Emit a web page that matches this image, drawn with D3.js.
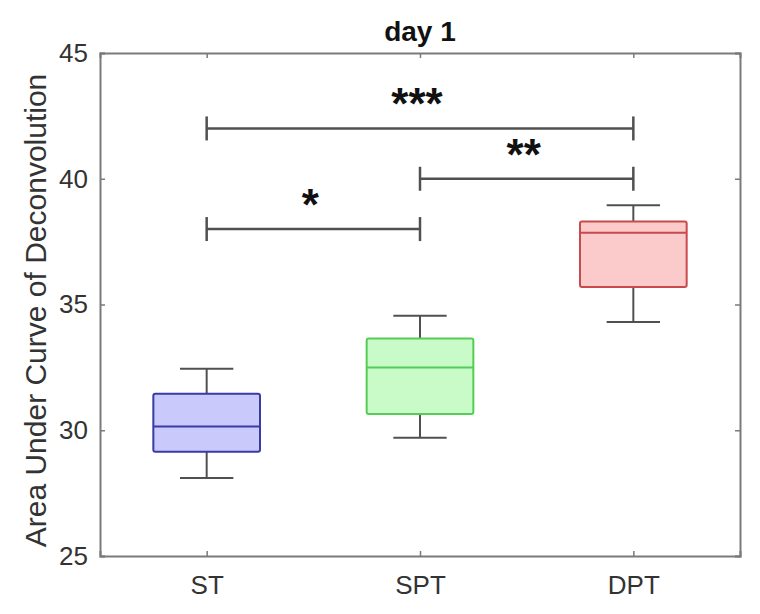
<!DOCTYPE html>
<html>
<head>
<meta charset="utf-8">
<script src="https://cdn.jsdelivr.net/npm/d3@7"></script>
<style>
  body { margin: 0; background: #fff; }
  text { font-family: "Liberation Sans", Arial, sans-serif; }
</style>
</head>
<body>
<div id="chart-area"></div>
<script>
// box statistics
var categories = ["ST", "SPT", "DPT"];
var whiskerLow = [28.1, 29.7, 34.3];
var q1 = [29.15, 30.65, 35.7];
var medians = [30.15, 32.5, 37.85];
var q3 = [31.45, 33.65, 38.3];
var whiskerHigh = [32.45, 34.55, 38.95];

var yTicks = [25, 30, 35, 40, 45];

// significance brackets: from, to, level, label
var sigFrom = ["ST", "SPT", "ST"];
var sigTo = ["SPT", "DPT", "DPT"];
var sigLevel = [38, 40, 42];
var sigLabel = ["*", "**", "***"];

var fills = ["#c9c9fb", "#c9fbc9", "#fbcaca"];
var strokes = ["#3a3aa8", "#55cc55", "#c84a4a"];

var width = 760, height = 614;
var margin = { left: 100, right: 20, top: 53, bottom: 58 };

var svg = d3.select("#chart-area")
    .append("svg")
    .attr("width", width)
    .attr("height", height);

var x = d3.scalePoint()
    .domain(categories)
    .range([margin.left, width - margin.right])
    .padding(0.5);
var step = x.step();

var y = d3.scaleLinear()
    .domain([25, 45])
    .range([height - margin.bottom, margin.top]);

var axisColor = "#7a7a7a";
var tickLen = 5;

// axes, ticks pointing inward like MATLAB
svg.append("g")
    .attr("transform", "translate(" + margin.left + ",0)")
    .call(d3.axisLeft(y).tickValues(yTicks).tickSize(-tickLen).tickPadding(12))
    .call(function (g) {
        g.select(".domain").attr("stroke", axisColor).attr("stroke-width", 2);
        g.selectAll(".tick line").attr("stroke", axisColor).attr("stroke-width", 1.5);
        g.selectAll(".tick text").attr("font-size", 26).attr("fill", "#333").attr("font-family", "Liberation Sans, Arial, sans-serif");
    });

svg.append("g")
    .attr("transform", "translate(" + (width - margin.right) + ",0)")
    .call(d3.axisRight(y).tickValues(yTicks).tickSize(-tickLen).tickFormat(""))
    .call(function (g) {
        g.select(".domain").attr("stroke", axisColor).attr("stroke-width", 2);
        g.selectAll(".tick line").attr("stroke", axisColor).attr("stroke-width", 1.5);
    });

svg.append("g")
    .attr("transform", "translate(0," + (height - margin.bottom) + ")")
    .call(d3.axisBottom(x).tickSize(-tickLen).tickPadding(20))
    .call(function (g) {
        g.select(".domain").attr("stroke", axisColor).attr("stroke-width", 2);
        g.selectAll(".tick line").attr("stroke", axisColor).attr("stroke-width", 1.5);
        g.selectAll(".tick text").attr("font-size", 26).attr("fill", "#333").attr("font-family", "Liberation Sans, Arial, sans-serif");
    });

svg.append("g")
    .attr("transform", "translate(0," + margin.top + ")")
    .call(d3.axisTop(x).tickSize(-tickLen).tickFormat(""))
    .call(function (g) {
        g.select(".domain").attr("stroke", axisColor).attr("stroke-width", 2);
        g.selectAll(".tick line").attr("stroke", axisColor).attr("stroke-width", 1.5);
    });

// boxes
var whiskerColor = "#505050";
var boxes = svg.append("g").attr("id", "boxes");
categories.forEach(function (c, i) {
    var cx = x(c);
    var bw = step * 0.5;
    var cw = step * 0.25;
    var g = boxes.append("g");

    g.append("line")
        .attr("x1", cx).attr("x2", cx)
        .attr("y1", y(q3[i])).attr("y2", y(whiskerHigh[i]))
        .attr("stroke", whiskerColor).attr("stroke-width", 2);
    g.append("line")
        .attr("x1", cx).attr("x2", cx)
        .attr("y1", y(q1[i])).attr("y2", y(whiskerLow[i]))
        .attr("stroke", whiskerColor).attr("stroke-width", 2);
    g.append("line")
        .attr("x1", cx - cw / 2).attr("x2", cx + cw / 2)
        .attr("y1", y(whiskerHigh[i])).attr("y2", y(whiskerHigh[i]))
        .attr("stroke", whiskerColor).attr("stroke-width", 2);
    g.append("line")
        .attr("x1", cx - cw / 2).attr("x2", cx + cw / 2)
        .attr("y1", y(whiskerLow[i])).attr("y2", y(whiskerLow[i]))
        .attr("stroke", whiskerColor).attr("stroke-width", 2);

    g.append("rect")
        .attr("x", cx - bw / 2)
        .attr("y", y(q3[i]))
        .attr("width", bw)
        .attr("height", y(q1[i]) - y(q3[i]))
        .attr("rx", 2)
        .attr("fill", fills[i])
        .attr("stroke", strokes[i])
        .attr("stroke-width", 2);
    g.append("line")
        .attr("x1", cx - bw / 2).attr("x2", cx + bw / 2)
        .attr("y1", y(medians[i])).attr("y2", y(medians[i]))
        .attr("stroke", strokes[i]).attr("stroke-width", 2);
});

// significance brackets
var sig = svg.append("g").attr("id", "significance");
sigLabel.forEach(function (label, i) {
    var x1 = x(sigFrom[i]), x2 = x(sigTo[i]), yy = y(sigLevel[i]);
    sig.append("line")
        .attr("x1", x1).attr("x2", x2)
        .attr("y1", yy).attr("y2", yy)
        .attr("stroke", whiskerColor).attr("stroke-width", 2.5);
    [x1, x2].forEach(function (xx) {
        sig.append("line")
            .attr("x1", xx).attr("x2", xx)
            .attr("y1", yy - 12).attr("y2", yy + 12)
            .attr("stroke", whiskerColor).attr("stroke-width", 2.5);
    });
    sig.append("text")
        .attr("x", (x1 + x2) / 2 - 3)
        .attr("y", yy - 9)
        .attr("text-anchor", "middle")
        .attr("font-size", 44)
        .attr("font-weight", "bold")
        .attr("fill", "#111")
        .text(label);
});

// title and y label
svg.append("text")
    .attr("x", (margin.left + width - margin.right) / 2)
    .attr("y", 41)
    .attr("text-anchor", "middle")
    .attr("font-size", 28)
    .attr("font-weight", "bold")
    .attr("fill", "#111")
    .text("day 1");

svg.append("text")
    .attr("transform", "translate(46," + ((margin.top + height - margin.bottom) / 2 + 6) + ") rotate(-90)")
    .attr("text-anchor", "middle")
    .attr("font-size", 30)
    .attr("fill", "#333")
    .text("Area Under Curve of Deconvolution");
</script>
</body>
</html>
